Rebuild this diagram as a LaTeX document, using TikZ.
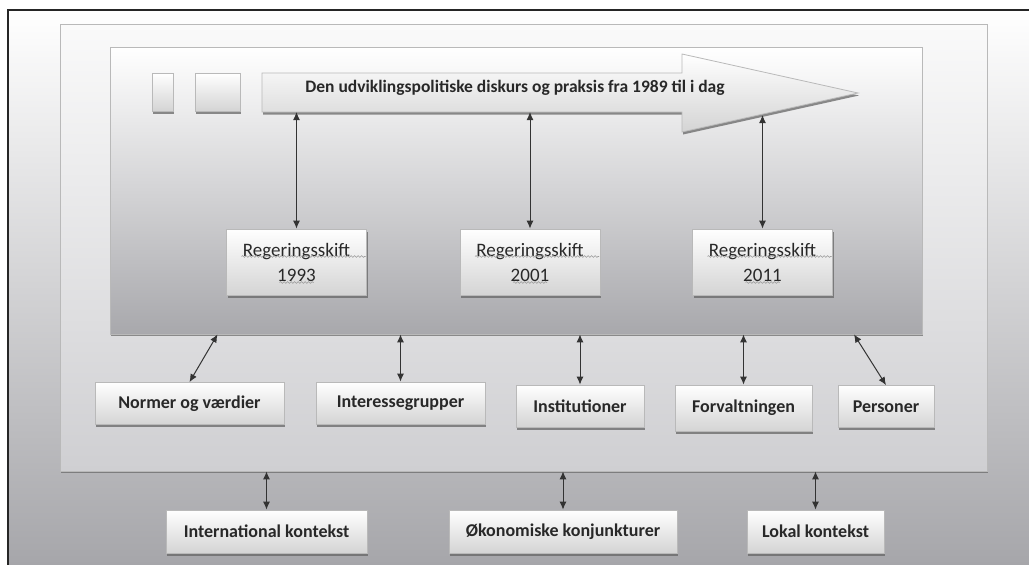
\documentclass[tikz,border=0pt]{standalone}
\usepackage{fontspec}
\setmainfont{Carlito}
\usetikzlibrary{arrows.meta, positioning, shadows, decorations.pathmorphing, calc}
\definecolor{textcolor} {RGB}{40, 40, 40}
\definecolor{outerbot}  {RGB}{166, 166, 170}
\definecolor{midtop}    {RGB}{250, 250, 250}
\definecolor{midbot}    {RGB}{207, 207, 210}
\definecolor{innerbot}  {RGB}{168, 168, 172}
\definecolor{boxbot}    {RGB}{212, 212, 212}
\definecolor{edgecolor} {RGB}{185, 185, 185}
\tikzset{
	framebox/.style={
		rectangle, inner sep=0pt,
		draw=edgecolor, line width=0.8pt,
		drop shadow={shadow xshift=0.8pt, shadow yshift=-2pt, fill=black!60, opacity=0.7}
	},
	baseblock/.style={
		rectangle, inner sep=0pt, align=center,
		draw=edgecolor, line width=0.8pt,
		top color=white, bottom color=boxbot, text=textcolor,
		drop shadow={shadow xshift=1pt, shadow yshift=-2.5pt, fill=black!60, opacity=0.75}
	},
	factorblock/.style={
		baseblock, minimum height=42pt,
		font=\fontsize{18}{22}\selectfont\bfseries
	},
	regblock/.style={
		baseblock, minimum width=140pt, minimum height=66pt,
		font=\fontsize{19}{25}\selectfont
	},
	dblarrow/.style={
		{Latex[length=8pt,width=7pt]}-{Latex[length=8pt,width=7pt]},
		line width=1pt, color=black!80
	},
	squiggle/.style={
		decorate, decoration={snake, amplitude=0.9pt, segment length=3.5pt},
		color=black!40, line width=0.6pt
	}
}

\begin{document}
\begin{tikzpicture}[x=1pt, y=-1pt]
		\useasboundingbox (0,0) rectangle (1029,565);
		
		%% ═══════════════════════════════
		%%  FRAMES
		%% ═══════════════════════════════
		\fill[top color=white, bottom color=outerbot] (8,10) rectangle (1029,565);
		\draw[line width=1.5pt, black!85] (8,565) -- (8,10) -- (1029,10);
		
		\node[framebox, top color=midtop, bottom color=midbot,
		minimum width=927pt, minimum height=447pt] (context) at (523.5,247.5) {};
		\node[framebox, top color=white, bottom color=innerbot,
		minimum width=812pt, minimum height=287pt] (actors) at (516,190.5) {};
		
		%% ═══════════════════════════════
		%%  TIMELINE
		%% ═══════════════════════════════
		\node[baseblock, minimum width=21pt, minimum height=38pt] (sq1) at (162.5,92) {};
		\node[baseblock, minimum width=45pt, minimum height=38pt] (sq2) at (217.5,92) {};
		\draw[draw=edgecolor, line width=0.8pt, top color=white, bottom color=boxbot,
		drop shadow={shadow xshift=1pt, shadow yshift=-2.5pt, fill=black!60, opacity=0.75}]
		(262,73) -- (682,73) -- (682,54) -- (858,93) -- (682,132) -- (682,112) -- (262,112) -- cycle;
		\node[font=\fontsize{17.5}{20}\selectfont\bfseries, text=textcolor] (timeline) at (515,88)
		{Den udviklingspolitiske diskurs og praksis fra 1989 til i dag};
		\coordinate (tlbody) at (0,112);
		\coordinate (tlhead) at (0,115);
		
		%% ═══════════════════════════════
		%%  ROW 1 — Regeringsskift
		%% ═══════════════════════════════
		\node[regblock] (reg1) at (296.5,262) {Regeringsskift\\1993};
		\node[regblock] (reg2) at (530,262)   {Regeringsskift\\2001};
		\node[regblock] (reg3) at (762.5,262) {Regeringsskift\\2011};
		\foreach \r in {reg1,reg2,reg3} {
			\draw[squiggle] ($(\r.center)+(-55,-5.5)$) -- ($(\r.center)+(69,-5.5)$);
			\draw[squiggle] ($(\r.center)+(-17,20.5)$) -- ($(\r.center)+(17,20.5)$);
		}
		
		%% ═══════════════════════════════
		%%  ROW 2 — Actors
		%% ═══════════════════════════════
		\node[factorblock, minimum width=189pt] (norm)  at (189.5,403.5) {Normer og værdier};
		\node[factorblock, minimum width=169pt] (inter) at (400.5,403)   {Interessegrupper};
		\node[factorblock, minimum width=128pt] (inst)  at (580,406)     {Institutioner};
		\node[factorblock, minimum width=137pt,
		minimum height=46pt]                    (forv)  at (743.5,408)   {Forvaltningen};
		\node[factorblock, minimum width=96pt]  (pers)  at (886,406.5)   {Personer};
		
		%% ═══════════════════════════════
		%%  ROW 3 — Context
		%% ═══════════════════════════════
		\node[factorblock, minimum width=201pt, minimum height=43pt] (intl)  at (266.5,531.5) {International kontekst};
		\node[factorblock, minimum width=228pt, minimum height=43pt] (okon)  at (563,531.5)   {Økonomiske konjunkturer};
		\node[factorblock, minimum width=137pt, minimum height=43pt] (lokal) at (815.5,531.5) {Lokal kontekst};
		
		%% ═══════════════════════════════
		%%  ARROWS
		%% ═══════════════════════════════
		
		% Timeline ↔ Regeringsskift
		\draw[dblarrow] (reg1.north |- tlbody) -- (reg1.north);
		\draw[dblarrow] (reg2.north |- tlbody) -- (reg2.north);
		\draw[dblarrow] (reg3.north |- tlhead) -- (reg3.north);
		
		% Inner box ↔ actors
		\draw[dblarrow] ([xshift=28pt]norm.north |- actors.south) -- (norm.north);
		\draw[dblarrow] (inter.north |- actors.south) -- (inter.north);
		\draw[dblarrow] (inst.north |- actors.south) -- (inst.north);
		\draw[dblarrow] (forv.north |- actors.south) -- (forv.north);
		\draw[dblarrow] ([xshift=-32pt]pers.north |- actors.south) -- (pers.north);
		
		% Middle box ↔ context
		\draw[dblarrow] (intl.north |- context.south) -- (intl.north);
		\draw[dblarrow] (okon.north |- context.south) -- (okon.north);
		\draw[dblarrow] (lokal.north |- context.south) -- (lokal.north);
		
\end{tikzpicture}
\end{document}
